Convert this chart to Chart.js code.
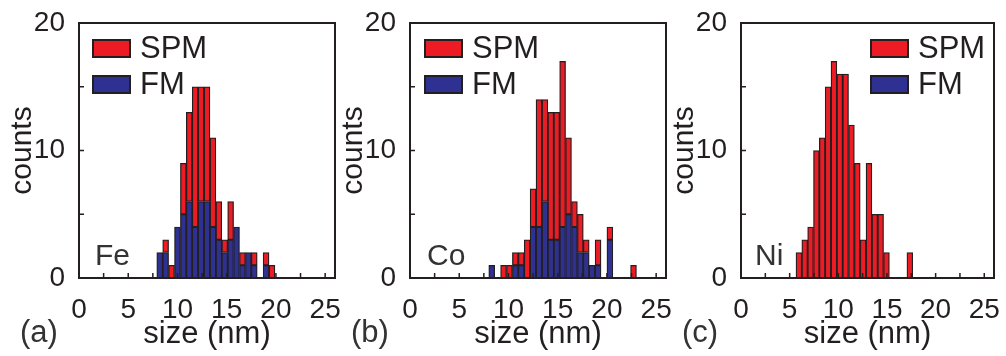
<!DOCTYPE html>
<html>
<head>
<meta charset="utf-8">
<script src="https://cdn.jsdelivr.net/npm/chart.js@4.4.1/dist/chart.umd.min.js"></script>
<style>
html, body { margin: 0; padding: 0; background: #fff; overflow: hidden; }
#wrap { position: relative; width: 1006px; height: 356px; }
canvas { position: absolute; top: 0; }
</style>
</head>
<body>
<div id="wrap">
  <canvas id="c1" width="355" height="356" style="left:0px"></canvas>
  <canvas id="c2" width="355" height="356" style="left:331px"></canvas>
  <canvas id="c3" width="344" height="356" style="left:662px"></canvas>
</div>
<script>
// axis ticks
const xTicks = [0, 5, 10, 15, 20, 25];
const xMinorTicks = [0, 2.5, 5, 7.5, 10, 12.5, 15, 17.5, 20, 22.5, 25];
const yTicks = [0, 10, 20];
const yMinorTicks = [0, 5, 10, 15, 20];

// Fe histogram (bin centres in nm)
const feSize = [8.2, 8.8, 9.4, 10.0, 10.6, 11.2, 11.8, 12.4, 13.0, 13.6, 14.2, 14.8, 15.4, 16.0, 16.6, 17.2, 17.8, 18.4, 19.0, 19.6];
const feFM   = [2, 2, 0, 4, 5, 6, 4, 6, 6, 4, 3, 2, 3, 4, 1, 2, 1, 0, 1, 0];
const feSPM  = [0, 1, 1, 0, 4, 7, 11, 9, 9, 7, 3, 1, 3, 0, 1, 0, 1, 0, 1, 1];

// Co histogram
const coSize = [8.3, 8.9, 9.5, 10.1, 10.7, 11.3, 11.9, 12.5, 13.1, 13.7, 14.3, 14.9, 15.5, 16.1, 16.7, 17.3, 17.9, 18.5, 19.1, 19.7, 20.3, 20.9, 21.5, 22.1, 22.7];
const coFM   = [1, 0, 0, 0, 1, 1, 0, 4, 4, 6, 3, 3, 4, 5, 4, 2, 2, 1, 1, 0, 3, 0, 0, 0, 0];
const coSPM  = [0, 0, 1, 1, 1, 1, 3, 3, 10, 8, 10, 10, 13, 6, 2, 3, 1, 0, 2, 0, 1, 0, 0, 0, 1];

// Ni histogram
const niSize = [5.95, 6.55, 7.15, 7.75, 8.35, 8.95, 9.55, 10.15, 10.75, 11.35, 11.95, 12.55, 13.15, 13.75, 14.35, 14.95, 15.55, 16.15, 16.75, 17.35];
const niFM   = [0, 0, 0, 0, 0, 0, 0, 0, 0, 0, 0, 0, 0, 0, 0, 0, 0, 0, 0, 0];
const niSPM  = [2, 3, 4, 10, 11, 15, 17, 16, 16, 12, 9, 3, 9, 5, 5, 2, 0, 0, 0, 2];

const INK = '#231f20';
const RED = '#ed1c24';
const BLUE = '#2e3192';
const FONT = '"Liberation Sans", Arial, Helvetica, sans-serif';

const panels = [
    {id: 'c1', tag: '(a)', element: 'Fe', size: feSize, fm: feFM, spm: feSPM, padRight: 20, legendX: 14, elemX: 16},
    {id: 'c2', tag: '(b)', element: 'Co', size: coSize, fm: coFM, spm: coSPM, padRight: 20, legendX: 15, elemX: 17},
    {id: 'c3', tag: '(c)', element: 'Ni', size: niSize, fm: niFM, spm: niSPM, padRight: 12, legendX: 130, elemX: 14}
];

// frame, inward ticks, legend and labels
const framePlugin = {
    id: 'frame',
    afterDraw(chart, args, opts) {
        const ctx = chart.ctx;
        const a = chart.chartArea;
        const x = chart.scales.x, y = chart.scales.y;
        ctx.save();
        ctx.strokeStyle = INK;
        ctx.lineWidth = 1.5;
        ctx.beginPath();
        xMinorTicks.forEach(function (v) {
            const px = x.getPixelForValue(v);
            ctx.moveTo(px, a.bottom);
            ctx.lineTo(px, a.bottom - 5);
        });
        yMinorTicks.forEach(function (v) {
            const py = y.getPixelForValue(v);
            ctx.moveTo(a.left, py);
            ctx.lineTo(a.left + 5, py);
        });
        ctx.stroke();
        ctx.lineWidth = 2;
        ctx.strokeRect(a.left, a.top, a.right - a.left, a.bottom - a.top);

        // legend
        const ds = chart.data.datasets.slice().reverse();
        ctx.font = '31px ' + FONT;
        ctx.textBaseline = 'middle';
        ds.forEach(function (d, i) {
            const bx = a.left + opts.legendX;
            const by = a.top + 17 + i * 36;
            ctx.fillStyle = d.backgroundColor;
            ctx.fillRect(bx, by, 37, 17);
            ctx.lineWidth = 2;
            ctx.strokeRect(bx, by, 37, 17);
            ctx.fillStyle = INK;
            ctx.fillText(d.label, bx + 47, by + 9);
        });

        ctx.textBaseline = 'alphabetic';
        ctx.fillStyle = '#333';
        ctx.font = '30px ' + FONT;
        ctx.fillText(opts.element, a.left + opts.elemX, a.bottom - 13);
        ctx.font = '31px ' + FONT;
        ctx.fillText(opts.tag, a.left - 59, 342);
        ctx.restore();
    }
};

panels.forEach(function (p) {
    const fmData = p.size.map(function (s, i) { return {x: s, y: p.fm[i]}; });
    const spmData = p.size.map(function (s, i) { return {x: s, y: p.spm[i]}; });
    const barStyle = {borderColor: INK, borderWidth: 1.3, borderSkipped: false, barPercentage: 1, categoryPercentage: 1};

    new Chart(document.getElementById(p.id), {
        type: 'bar',
        data: {
            datasets: [
                Object.assign({label: 'FM', data: fmData, backgroundColor: BLUE}, barStyle),
                Object.assign({label: 'SPM', data: spmData, backgroundColor: RED}, barStyle)
            ]
        },
        plugins: [framePlugin],
        options: {
            responsive: false,
            animation: false,
            events: [],
            layout: {padding: {left: 0, top: 23, right: p.padRight, bottom: 0}},
            plugins: {
                legend: {display: false},
                tooltip: {enabled: false},
                frame: {tag: p.tag, element: p.element, legendX: p.legendX, elemX: p.elemX}
            },
            scales: {
                x: {
                    type: 'linear', min: 0, max: 26, stacked: true, offset: false,
                    grid: {display: false}, border: {display: false},
                    ticks: {padding: 7, color: INK, font: {family: FONT, size: 28}, maxRotation: 0, autoSkip: false},
                    title: {display: true, text: 'size (nm)', color: INK, font: {family: FONT, size: 31}, padding: {top: 0, bottom: 3}},
                    afterBuildTicks: function (s) { s.ticks = xTicks.map(function (v) { return {value: v}; }); },
                    afterFit: function (s) { s.height = 78; s.paddingLeft = 0; s.paddingRight = 0; }
                },
                y: {
                    min: 0, max: 20, stacked: true,
                    grid: {display: false}, border: {display: false},
                    ticks: {padding: 6, color: INK, font: {family: FONT, size: 28}},
                    title: {display: true, text: 'counts', color: INK, font: {family: FONT, size: 30}, padding: {top: 5, bottom: 0}},
                    afterBuildTicks: function (s) { s.ticks = yTicks.map(function (v) { return {value: v}; }); },
                    afterFit: function (s) { s.width = 79; s.paddingTop = 0; s.paddingBottom = 0; }
                }
            }
        }
    });
});
</script>
</body>
</html>
